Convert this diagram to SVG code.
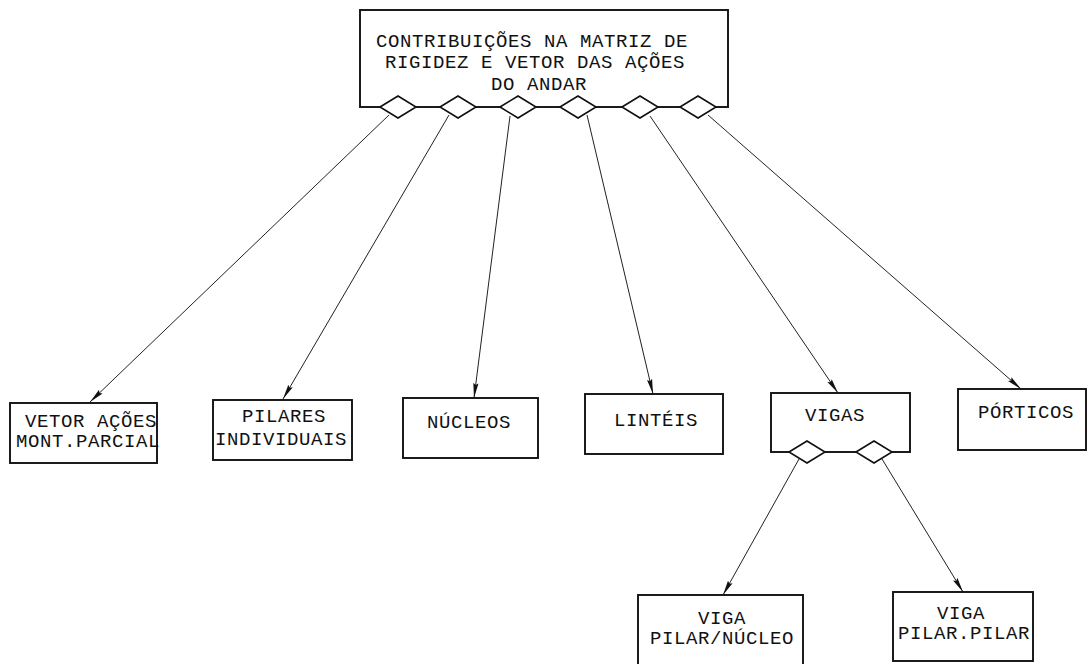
<svg xmlns="http://www.w3.org/2000/svg" width="1088" height="664" viewBox="0 0 1088 664">
  <style>
    .box { fill: #fff; stroke: #111; stroke-width: 1.9; }
    .dia { fill: #fff; stroke: #111; stroke-width: 1.6; }
    .lbl { font-family: "Liberation Mono", "DejaVu Sans Mono", monospace; font-size: 19px; letter-spacing: 0.6px; fill: #111; text-anchor: middle; }
    .edge { fill: none; stroke: #222; stroke-width: 1; marker-end: url(#arrow); }
  </style>
  <defs>
    <marker id="arrow" viewBox="0 0 15 6" refX="15" refY="3" markerWidth="15" markerHeight="6" markerUnits="userSpaceOnUse" orient="auto">
      <path d="M0,0.4 L15,3 L0,5.6 L2,3 Z" fill="#111"/>
    </marker>
  </defs>
  <rect width="1088" height="664" fill="#fff"/>

  <g id="connectors">
    <line class="edge" x1="389" y1="115" x2="90" y2="402"/>
    <line class="edge" x1="449" y1="115" x2="283" y2="399"/>
    <line class="edge" x1="510" y1="116" x2="474" y2="398"/>
    <line class="edge" x1="587" y1="115" x2="653" y2="394"/>
    <line class="edge" x1="650" y1="116" x2="838" y2="393"/>
    <line class="edge" x1="708" y1="115" x2="1021" y2="389"/>
    <line class="edge" x1="799" y1="459" x2="723" y2="595"/>
    <line class="edge" x1="882" y1="459" x2="963" y2="592"/>
  </g>

  <g id="root">
    <rect class="box" x="360" y="10" width="368" height="97"/>
    <text class="lbl" x="532" y="47">CONTRIBUIÇÕES NA MATRIZ DE</text>
    <text class="lbl" x="535" y="68">RIGIDEZ E VETOR DAS AÇÕES</text>
    <text class="lbl" x="539" y="90">DO ANDAR</text>
    <polygon class="dia" points="380,107 398,96 416,107 398,118"/>
    <polygon class="dia" points="440,107 458,96 476,107 458,118"/>
    <polygon class="dia" points="500,107 518,96 536,107 518,118"/>
    <polygon class="dia" points="560,107 578,96 596,107 578,118"/>
    <polygon class="dia" points="622,107 640,96 658,107 640,118"/>
    <polygon class="dia" points="680,107 698,96 716,107 698,118"/>
  </g>

  <g id="vetor-acoes">
    <rect class="box" x="10" y="403" width="147" height="60"/>
    <text class="lbl" x="91" y="427">VETOR AÇÕES</text>
    <text class="lbl" x="88" y="447">MONT.PARCIAL</text>
  </g>

  <g id="pilares">
    <rect class="box" x="213" y="400" width="139" height="60"/>
    <text class="lbl" x="284" y="422">PILARES</text>
    <text class="lbl" x="281" y="445">INDIVIDUAIS</text>
  </g>

  <g id="nucleos">
    <rect class="box" x="403" y="398" width="135" height="60"/>
    <text class="lbl" x="469" y="428">NÚCLEOS</text>
  </g>

  <g id="linteis">
    <rect class="box" x="585" y="394" width="138" height="60"/>
    <text class="lbl" x="656" y="426">LINTÉIS</text>
  </g>

  <g id="vigas">
    <rect class="box" x="771" y="393" width="139" height="59"/>
    <text class="lbl" x="835" y="421">VIGAS</text>
    <polygon class="dia" points="789,452 807,441 825,452 807,463"/>
    <polygon class="dia" points="856,452 874,441 892,452 874,463"/>
  </g>

  <g id="porticos">
    <rect class="box" x="958" y="389" width="128" height="61"/>
    <text class="lbl" x="1026" y="418">PÓRTICOS</text>
  </g>

  <g id="viga-pilar-nucleo">
    <rect class="box" x="638" y="595" width="165" height="72"/>
    <text class="lbl" x="722" y="624">VIGA</text>
    <text class="lbl" x="722" y="644">PILAR/NÚCLEO</text>
  </g>

  <g id="viga-pilar-pilar">
    <rect class="box" x="893" y="592" width="140" height="69"/>
    <text class="lbl" x="961" y="619">VIGA</text>
    <text class="lbl" x="964" y="639">PILAR.PILAR</text>
  </g>
</svg>
